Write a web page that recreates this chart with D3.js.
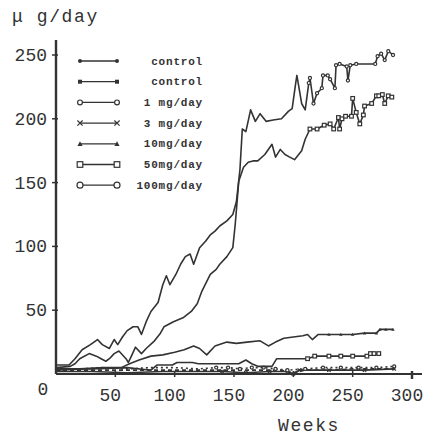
<!DOCTYPE html>
<html>
<head>
<meta charset="utf-8">
<script src="https://cdn.jsdelivr.net/npm/d3@7"></script>
<style>
  body { margin: 0; background: #fff; }
  svg { display: block; }
  .tick-label { font-family: "Liberation Mono", "DejaVu Sans Mono", monospace; font-size: 18px; fill: #333; }
  .legend-label { font-family: "Liberation Mono", "DejaVu Sans Mono", monospace; font-size: 11px; font-weight: bold; fill: #333; letter-spacing: 0.8px; }
</style>
</head>
<body>
<div id="chart"></div>
<script>
// chart size
var svgWidth = 430;
var svgHeight = 437;

// data (weeks, micrograms/day)
var ctrlAWeeks = [0, 11, 16, 22, 29, 35, 39, 45, 49, 52, 56, 60, 65, 69, 72, 76, 80, 86, 90, 93, 96, 101, 105, 109, 113, 116, 121, 126, 130, 134, 138, 144, 149, 152, 155, 157, 160, 164, 168, 172, 177, 183, 190, 196, 199, 202, 203, 207, 210, 213, 214, 217, 220, 224, 225, 229, 231, 235, 236, 239, 245, 246, 248, 253, 269, 271, 274, 277, 280, 284];
var ctrlAVals = [7, 7, 12, 19, 23, 27, 23, 20, 27, 23, 29, 34, 37, 37, 31, 41, 49, 56, 70, 77, 70, 78, 86, 92, 94, 86, 99, 104, 109, 112, 116, 120, 125, 135, 160, 192, 190, 207, 198, 204, 198, 199, 200, 206, 208, 228, 234, 212, 207, 228, 232, 212, 220, 224, 234, 234, 231, 224, 242, 243, 241, 230, 242, 243, 243, 249, 251, 246, 253, 250];

var ctrlBWeeks = [0, 12, 16, 20, 28, 34, 38, 42, 45, 49, 53, 59, 61, 64, 67, 72, 76, 83, 88, 91, 99, 107, 114, 119, 123, 130, 135, 138, 144, 149, 151, 154, 158, 162, 166, 170, 176, 182, 185, 189, 193, 197, 201, 207, 210, 214, 220, 226, 231, 234, 238, 239, 241, 244, 249, 250, 253, 256, 259, 260, 266, 270, 272, 275, 277, 280, 283];
var ctrlBVals = [5, 6, 8, 12, 16, 14, 12, 10, 12, 16, 18, 12, 9, 15, 21, 16, 20, 26, 32, 37, 41, 44, 49, 55, 65, 78, 82, 86, 92, 99, 117, 151, 162, 166, 167, 167, 172, 180, 170, 176, 172, 170, 168, 175, 184, 192, 192, 195, 196, 192, 201, 192, 200, 202, 202, 216, 205, 196, 203, 210, 212, 218, 218, 219, 212, 218, 217];

var mg10Weeks = [0, 20, 40, 55, 62, 70, 80, 90, 100, 108, 116, 121, 127, 134, 144, 152, 161, 172, 179, 185, 192, 200, 208, 212, 216, 221, 230, 240, 250, 260, 270, 273, 278, 284];
var mg10Vals = [3, 4, 5, 5, 8, 11, 14, 15, 17, 19, 22, 20, 15, 22, 25, 24, 25, 26, 22, 25, 28, 29, 30, 31, 27, 31, 31, 31, 31, 32, 32, 35, 35, 35];

var mg50Weeks = [0, 30, 60, 80, 85, 98, 102, 115, 120, 130, 140, 154, 160, 165, 170, 182, 186, 200, 212, 218, 230, 240, 250, 262, 265, 268, 272];
var mg50Vals = [4, 4, 5, 3, 7, 7, 9, 9, 8, 8, 8, 8, 11, 8, 6, 6, 12, 12, 12, 14, 14, 14, 14, 14, 16, 16, 16];

var mg1Weeks = [0, 20, 40, 60, 80, 100, 120, 135, 145, 155, 165, 175, 185, 195, 210, 225, 240, 255, 270, 285];
var mg1Vals = [4, 4, 5, 4, 5, 5, 4, 5, 5, 4, 5, 5, 4, 3, 4, 5, 5, 5, 5, 6];

var mg3Weeks = [0, 30, 60, 90, 120, 140, 160, 180, 195, 200, 205, 230, 260, 285];
var mg3Vals = [2, 2, 1, 2, 2, 2, 1, 2, 2, 0, 3, 3, 3, 4];

var mg100Weeks = [0, 50, 100, 140, 190, 200, 210, 230, 250, 270, 285];
var mg100Vals = [3, 3, 3, 3, 3, 1, 3, 3, 4, 4, 4];

var legendLabels = ["control", "control", "1 mg/day", "3 mg/day", "10mg/day", "50mg/day", "100mg/day"];
var legendShapes = ["dot", "fsquare", "circle", "cross", "triangle", "square", "bigcircle"];

var yTicks = [50, 100, 150, 200, 250];
var xTicks = [50, 100, 150, 200, 250, 300];

var svg = d3.select("#chart")
  .append("svg")
  .attr("width", svgWidth)
  .attr("height", svgHeight);

svg.append("rect").attr("width", svgWidth).attr("height", svgHeight).attr("fill", "#fff");

var xScale = d3.scaleLinear().domain([0, 300]).range([56, 412]);
var yScale = d3.scaleLinear().domain([0, 250]).range([374, 55]);

var ink = "#333";

// draw one marker shape at x,y
function drawMark(g, shape, x, y, s) {
  if (shape === "dot") {
    g.append("circle").attr("cx", x).attr("cy", y).attr("r", 2 * s).attr("fill", ink);
  } else if (shape === "fsquare") {
    g.append("rect").attr("x", x - 2 * s).attr("y", y - 2 * s).attr("width", 4 * s).attr("height", 4 * s).attr("fill", ink);
  } else if (shape === "circle") {
    g.append("circle").attr("cx", x).attr("cy", y).attr("r", 2.4 * s).attr("fill", "#fff").attr("stroke", ink).attr("stroke-width", 1.2);
  } else if (shape === "bigcircle") {
    g.append("circle").attr("cx", x).attr("cy", y).attr("r", 3 * s).attr("fill", "#fff").attr("stroke", ink).attr("stroke-width", 1.2);
  } else if (shape === "square") {
    g.append("rect").attr("x", x - 2.8 * s).attr("y", y - 2.8 * s).attr("width", 5.6 * s).attr("height", 5.6 * s).attr("fill", "#fff").attr("stroke", ink).attr("stroke-width", 1.2);
  } else if (shape === "triangle") {
    var t = 2.6 * s;
    g.append("path").attr("d", `M${x},${y - t} L${x + t},${y + t * 0.8} L${x - t},${y + t * 0.8} Z`).attr("fill", ink);
  } else if (shape === "cross") {
    var c = 2.6 * s;
    g.append("path").attr("d", `M${x - c},${y - c} L${x + c},${y + c} M${x - c},${y + c} L${x + c},${y - c}`).attr("stroke", ink).attr("stroke-width", 1.2).attr("fill", "none");
  }
}

// series table built from the arrays
var series = [
  { w: mg100Weeks, v: mg100Vals, shape: "bigcircle", from: 999, dash: "4,3" },
  { w: mg3Weeks, v: mg3Vals, shape: "cross", from: 130, dash: null },
  { w: mg1Weeks, v: mg1Vals, shape: "circle", from: 130, dash: "2,3" },
  { w: mg50Weeks, v: mg50Vals, shape: "square", from: 212, dash: null },
  { w: mg10Weeks, v: mg10Vals, shape: "triangle", from: 222, dash: null },
  { w: ctrlBWeeks, v: ctrlBVals, shape: "square", from: 214, dash: null },
  { w: ctrlAWeeks, v: ctrlAVals, shape: "circle", from: 213, dash: null }
];

var line = d3.line()
  .x(d => xScale(d[0]))
  .y(d => yScale(d[1]));

var linesGroup = svg.append("g");
series.forEach(function(s) {
  var pts = s.w.map((wk, i) => [wk, s.v[i]]);
  linesGroup.append("path")
    .datum(pts)
    .attr("d", line)
    .attr("fill", "none")
    .attr("stroke", ink)
    .attr("stroke-width", 1.6)
    .attr("stroke-linejoin", "round")
    .attr("stroke-dasharray", s.dash);
  var mg = linesGroup.append("g");
  pts.filter(p => p[0] >= s.from).forEach(function(p) {
    drawMark(mg, s.shape, xScale(p[0]), yScale(p[1]), 0.65);
  });
});

// axes
var axisGroup = svg.append("g");
axisGroup.append("line")
  .attr("x1", xScale(0)).attr("x2", xScale(0))
  .attr("y1", 40).attr("y2", yScale(0))
  .attr("stroke", ink).attr("stroke-width", 2.4);
axisGroup.append("line")
  .attr("x1", xScale(0)).attr("x2", 422)
  .attr("y1", yScale(0)).attr("y2", yScale(0))
  .attr("stroke", ink).attr("stroke-width", 2);

axisGroup.selectAll(".ytick")
  .data(yTicks)
  .enter()
  .append("line")
  .attr("x1", xScale(0) - 4).attr("x2", xScale(0) + 2)
  .attr("y1", d => yScale(d)).attr("y2", d => yScale(d))
  .attr("stroke", ink).attr("stroke-width", 1.5);

axisGroup.selectAll(".ylabel")
  .data(yTicks)
  .enter()
  .append("text")
  .attr("class", "tick-label")
  .attr("x", xScale(0) - 9)
  .attr("y", d => yScale(d) + 6)
  .attr("text-anchor", "end")
  .text(d => d);

axisGroup.selectAll(".xtick")
  .data(xTicks)
  .enter()
  .append("line")
  .attr("x1", d => xScale(d)).attr("x2", d => xScale(d))
  .attr("y1", yScale(0) - 3).attr("y2", d => yScale(0) + (d === 300 ? 5 : 3))
  .attr("stroke", ink).attr("stroke-width", d => d === 300 ? 2.5 : 1.5);

axisGroup.selectAll(".xlabel")
  .data(xTicks)
  .enter()
  .append("text")
  .attr("class", "tick-label")
  .attr("x", d => xScale(d) - 5)
  .attr("y", 401)
  .attr("text-anchor", "middle")
  .text(d => d);

axisGroup.append("text")
  .attr("class", "tick-label")
  .attr("x", 43).attr("y", 395)
  .attr("text-anchor", "middle")
  .text("0");

// axis titles
svg.append("text")
  .attr("class", "tick-label")
  .attr("x", 12).attr("y", 22)
  .attr("letter-spacing", "1.6px")
  .text("μ g/day");

svg.append("text")
  .attr("class", "tick-label")
  .attr("x", 278).attr("y", 431)
  .attr("letter-spacing", "1.6px")
  .text("Weeks");

// legend
var legendGroup = svg.append("g");
legendLabels.forEach(function(lab, i) {
  var ly = 61 + i * 20.7;
  legendGroup.append("line")
    .attr("x1", 80).attr("x2", 117)
    .attr("y1", ly).attr("y2", ly)
    .attr("stroke", ink).attr("stroke-width", 1.3);
  drawMark(legendGroup, legendShapes[i], 80, ly, 1);
  drawMark(legendGroup, legendShapes[i], 117, ly, 1);
  legendGroup.append("text")
    .attr("class", "legend-label")
    .attr("x", 203).attr("y", ly + 3.5)
    .attr("text-anchor", "end")
    .text(lab);
});
</script>
</body>
</html>
